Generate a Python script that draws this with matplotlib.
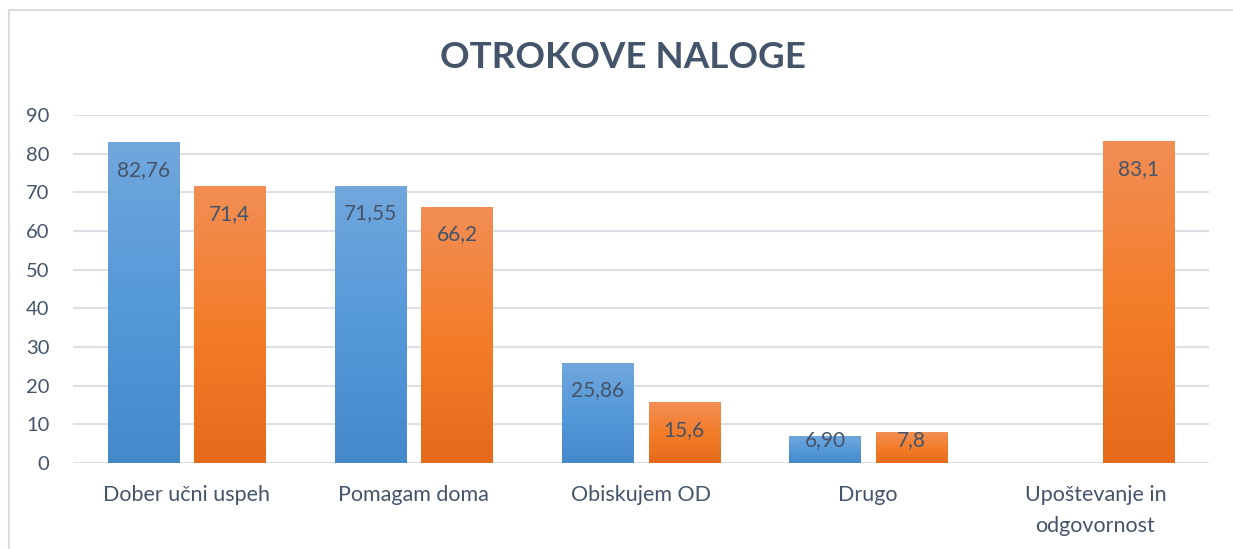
import numpy as np
import matplotlib
matplotlib.use("Agg")
import matplotlib.pyplot as plt
from matplotlib.colors import LinearSegmentedColormap
from matplotlib.patches import Rectangle

plt.rcParams['font.family'] = ['Lato', 'DejaVu Sans']

categories = ["Dober učni uspeh", "Pomagam doma", "Obiskujem OD", "Drugo",
              "Upoštevanje in\nodgovornost"]
blue_vals = [82.76, 71.55, 25.86, 6.90, None]
orange_vals = [71.4, 66.2, 15.6, 7.8, 83.1]
yticks = [0, 10, 20, 30, 40, 50, 60, 70, 80, 90]

text_col = '#44546A'
grid_col = '#DCE0E6'

blue_cmap = LinearSegmentedColormap.from_list('b', ['#4589CB', '#5599D9', '#71A7DD'])
orange_cmap = LinearSegmentedColormap.from_list('o', ['#E56B1A', '#F47D2A', '#F28E55'])

fig = plt.figure(figsize=(12.33, 5.49), dpi=100)
# chart frame (right and bottom edges cut off in the original)
fig.patches.append(Rectangle((9 / 1233, -0.2), 1.2, 1.2 - 10 / 549, transform=fig.transFigure,
                             fill=False, edgecolor='#D9DCE1', linewidth=1.5))
ax = fig.add_axes([73 / 1233, 1 - 463 / 549, (1209 - 73) / 1233, (463 - 115) / 549])

x = np.arange(len(categories))
width = 0.313
off = 0.19


def draw(vals, xs, cmap, fmt):
    grad = np.linspace(0, 1, 256).reshape(-1, 1)
    for xi, v in zip(xs, vals):
        if v is None:
            continue
        bar = ax.bar(xi, v, width, color='none', zorder=2)[0]
        x0, w, h = bar.get_x(), bar.get_width(), bar.get_height()
        ax.imshow(grad, cmap=cmap, origin='lower', aspect='auto',
                  extent=(x0, x0 + w, 0, h), zorder=2, interpolation='bilinear')
        yc = max(v - 7.0, 6.0)
        ax.text(xi, yc, fmt.format(v).replace('.', ','), ha='center', va='center',
                fontsize=15, color=text_col, zorder=3)


draw(blue_vals, x - off, blue_cmap, '{:.2f}')
draw(orange_vals, x + off, orange_cmap, '{:.1f}')

ax.set_xlim(-0.5, len(categories) - 0.5)
ax.set_ylim(0, 90)
ax.set_yticks(yticks)
ax.set_xticks(x)
ax.set_xticklabels(categories, fontsize=15.5, color=text_col, linespacing=1.65)
ax.tick_params(axis='y', length=0, pad=17, labelsize=14.5, labelcolor=text_col)
ax.tick_params(axis='x', length=0, pad=16)
ax.grid(axis='y', color=grid_col, linewidth=1.5, zorder=0)
ax.set_axisbelow(True)
for s in ax.spines.values():
    s.set_visible(False)

fig.text(623 / 1233, 1 - 58 / 549, "OTROKOVE NALOGE", ha='center', va='center',
         fontsize=26.5, fontweight='bold', color=text_col)

fig.savefig('out.png', dpi=100)
